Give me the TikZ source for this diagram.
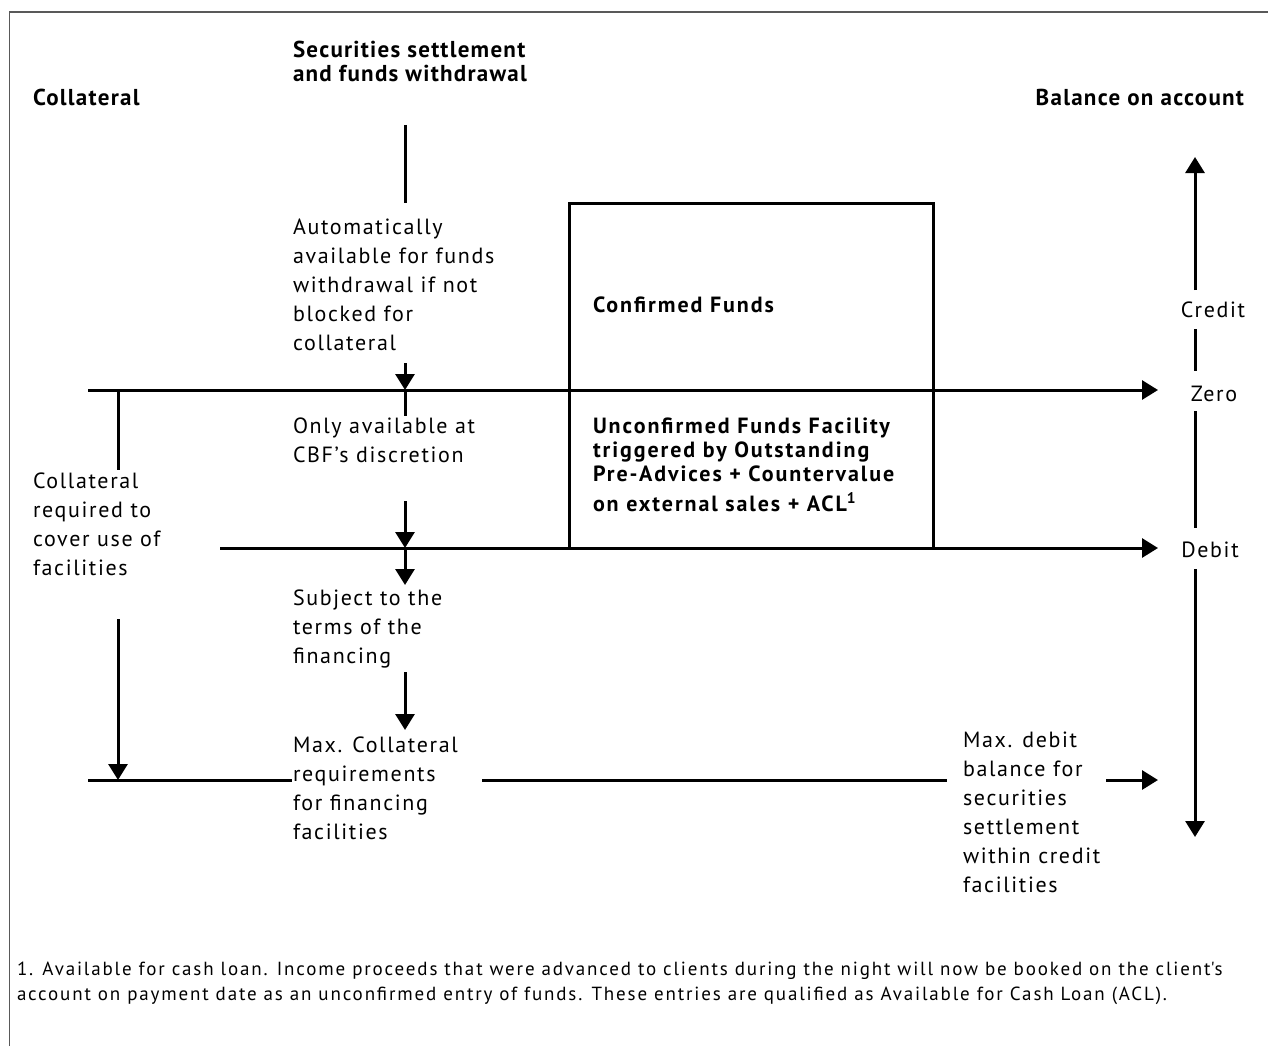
\documentclass[tikz,border=0pt]{standalone}
\usepackage{fontspec}
\setmainfont{PT Sans}
\usetikzlibrary{arrows.meta}
\newcommand{\stk}[1]{\vtop{\halign{##\hfil\cr#1\crcr}}}
\begin{document}
\begin{tikzpicture}[x=1pt,y=-1pt,
  every node/.style={inner sep=0pt,outer sep=0pt},
  ln/.style={line width=3pt},
  arr/.style={ln,-{Triangle[width=19pt,length=16pt]}},
  body/.style={font=\fontsize{22}{29}\selectfont\addfontfeatures{LetterSpace=7.5},anchor=base west},
  head/.style={font=\fontsize{23}{24}\selectfont\bfseries\addfontfeatures{LetterSpace=5.5},anchor=base west},
  boxt/.style={font=\fontsize{22}{24}\selectfont\bfseries\addfontfeatures{LetterSpace=8.8},anchor=base west},
  axl/.style={font=\fontsize{22}{29}\selectfont\addfontfeatures{LetterSpace=7.5},anchor=base},
  foot/.style={font=\fontsize{19}{25}\selectfont\addfontfeatures{LetterSpace=9.7},anchor=base west},
  frame/.style={draw=gray!70!black,line width=1.5pt}]
\useasboundingbox (0,0) rectangle (1268,1046);

% frame
\coordinate (fb) at (9.5,1046);
\coordinate (fc) at (9.5,12);
\coordinate (fr) at (1268,12);
\draw[frame] (fb) -- (fc) -- (fr);

% headings
\node[head] (hColl) at (33,106) {Collateral};
\node[head] (hSec) at (293,58) {\stk{Securities settlement\cr and funds withdrawal}};
\node[head,anchor=base east] (hBal) at (1244,106) {Balance on account};

% body texts
\node[body] (tAuto) at (293,234) {\stk{Automatically\cr available for funds\cr withdrawal if not\cr blocked for\cr collateral}};
\node[body] (tOnly) at (293,433) {\stk{Only available at\cr CBF’s discretion}};
\node[body] (tColl) at (33,488) {\stk{Collateral\cr required to\cr cover use of\cr facilities}};
\node[body] (tSubj) at (293,605) {\stk{Subject to the\cr terms of the\cr financing}};
\node[body] (tMaxC) at (293,752) {\stk{Max. Collateral\cr requirements\cr for financing\cr facilities}};
\node[body] (tMaxD) at (963,747) {\stk{Max. debit\cr balance for\cr securities\cr settlement\cr within credit\cr facilities}};

% axis labels
\node[axl] (tCredit) at (1213,317) {Credit};
\node[axl] (tZero) at (1214,401) {Zero};
\node[axl] (tDebit) at (1210,557) {Debit};

% box
\node[draw,ln,anchor=north west,minimum width=364pt,minimum height=345pt] (box) at (569,203) {};
\node[boxt] (tConf) at (593,312) {Confirmed Funds};
\node[boxt] (tUnc) at (593,433) {\stk{Unconfirmed Funds Facility\cr triggered by Outstanding\cr Pre-Advices + Countervalue\cr\noalign{\vskip6pt} on external sales + ACL\textsuperscript{1}}};

% footnote
\node[foot] (fn) at (17,975) {\stk{1. Available for cash loan. Income proceeds that were advanced to clients during the night will now be booked on the client\textquotesingle s\cr account on payment date as an unconfirmed entry of funds. These entries are qualified as Available for Cash Loan (ACL).}};

% coordinates
\coordinate (s1) at (405,125);
\coordinate (s2) at (405,203);
\coordinate (s3) at (405,363);
\coordinate (z0) at (88,390);
\coordinate (zc) at (405,390);
\coordinate (zl) at (118,390);
\coordinate (z1) at (1158,390);
\coordinate (s4) at (405,416);
\coordinate (l1) at (118,470);
\coordinate (s5) at (405,501);
\coordinate (d0) at (220,548);
\coordinate (dc) at (405,548);
\coordinate (d1) at (1158,548);
\coordinate (s6) at (405,585);
\coordinate (l2) at (118,619);
\coordinate (s7) at (405,672);
\coordinate (s8) at (405,730);
\coordinate (b0) at (88,780);
\coordinate (bl) at (118,780);
\coordinate (b1) at (292,780);
\coordinate (b2) at (482,780);
\coordinate (b3) at (947,780);
\coordinate (b4) at (1106,780);
\coordinate (b5) at (1158,780);
\coordinate (a0) at (1195,157);
\coordinate (a1) at (1195,290);
\coordinate (a2) at (1195,329);
\coordinate (a3) at (1195,371);
\coordinate (a4) at (1195,411);
\coordinate (a5) at (1195,528);
\coordinate (a6) at (1195,569);
\coordinate (a7) at (1195,837);

% connectors
\draw[ln] (s1) -- (s2);
\draw[arr] (s3) -- (zc);
\draw[ln] (zc) -- (s4);
\draw[arr] (z0) -- (z1);
\draw[ln] (zl) -- (l1);
\draw[arr] (l2) -- (bl);
\draw[arr] (s5) -- (dc);
\draw[arr] (dc) -- (s6);
\draw[arr] (d0) -- (d1);
\draw[arr] (s7) -- (s8);
\draw[ln] (b0) -- (b1);
\draw[ln] (b2) -- (b3);
\draw[arr] (b4) -- (b5);
\draw[arr] (a1) -- (a0);
\draw[ln] (a2) -- (a3);
\draw[ln] (a4) -- (a5);
\draw[arr] (a6) -- (a7);
\end{tikzpicture}
\end{document}
